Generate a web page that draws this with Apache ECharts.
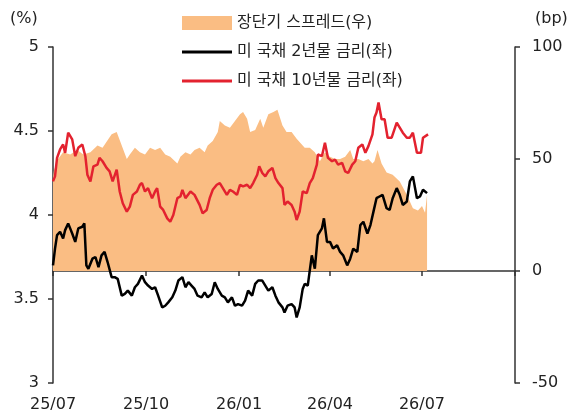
<!DOCTYPE html>
<html>
<head>
<meta charset="utf-8">
<script src="https://cdn.jsdelivr.net/npm/echarts@6/dist/echarts.min.js"></script>
<style>
  html, body { margin: 0; padding: 0; background: #fff; }
  #chart { width: 571px; height: 416px; }
</style>
</head>
<body>
<div id="chart"></div>
<script>
// day offsets from 2025-07-01
const spreadDays = [0, 1, 5, 10, 17, 24, 30, 37, 44, 49, 58, 63, 68, 73, 76, 81, 86, 91, 96, 101, 106, 111, 116, 123, 126, 131, 136, 140, 145, 150, 153, 158, 163, 165, 170, 175, 180, 185, 188, 192, 195, 200, 205, 208, 213, 218, 222, 227, 231, 236, 241, 247, 249, 254, 259, 264, 269, 274, 279, 284, 289, 294, 297, 302, 307, 312, 316, 318, 321, 325, 330, 336, 343, 350, 356, 361, 365, 368, 370]
const spreadBp = [42, 45, 50, 53, 52, 54, 52, 53, 56, 55, 61, 62, 56, 50, 52, 55, 53, 52, 55, 54, 55, 52, 51, 48, 51, 53, 52, 54, 55, 53, 56, 58, 62, 67, 65, 64, 67, 70, 71, 68, 62, 63, 68, 64, 70, 71, 72, 65, 62, 62, 59, 56, 55, 55, 53, 49, 53, 51, 50, 50, 51, 54, 50, 50, 49, 50, 48, 49, 54, 48, 44, 43, 40, 34, 28, 27, 29, 26, 34]

const y2Days = [0, 2, 4, 7, 10, 12, 15, 19, 22, 25, 29, 31, 33, 35, 39, 42, 45, 48, 51, 54, 58, 61, 64, 68, 71, 74, 78, 81, 84, 88, 91, 94, 98, 101, 104, 108, 111, 114, 118, 121, 124, 128, 131, 134, 137, 140, 143, 147, 150, 153, 157, 160, 163, 167, 170, 173, 177, 180, 183, 187, 190, 193, 197, 200, 203, 207, 210, 213, 217, 220, 223, 227, 229, 232, 236, 239, 241, 244, 247, 249, 252, 256, 259, 262, 266, 268, 271, 274, 277, 281, 284, 287, 291, 294, 297, 301, 304, 307, 311, 314, 317, 320, 323, 326, 330, 333, 336, 340, 343, 346, 350, 353, 356, 360, 363, 366, 370]
const y2Vals = [3.70, 3.80, 3.88, 3.90, 3.86, 3.91, 3.95, 3.89, 3.84, 3.92, 3.93, 3.95, 3.70, 3.68, 3.74, 3.75, 3.69, 3.76, 3.78, 3.72, 3.63, 3.63, 3.62, 3.52, 3.53, 3.55, 3.52, 3.57, 3.59, 3.64, 3.60, 3.58, 3.56, 3.57, 3.52, 3.45, 3.46, 3.48, 3.51, 3.55, 3.61, 3.63, 3.57, 3.60, 3.58, 3.56, 3.52, 3.51, 3.54, 3.51, 3.53, 3.60, 3.56, 3.52, 3.51, 3.48, 3.51, 3.46, 3.47, 3.46, 3.49, 3.55, 3.52, 3.59, 3.61, 3.61, 3.58, 3.55, 3.57, 3.52, 3.48, 3.45, 3.42, 3.46, 3.47, 3.45, 3.39, 3.45, 3.56, 3.59, 3.58, 3.76, 3.68, 3.88, 3.92, 3.98, 3.84, 3.84, 3.80, 3.82, 3.78, 3.76, 3.70, 3.74, 3.80, 3.78, 3.94, 3.96, 3.89, 3.94, 4.02, 4.10, 4.11, 4.12, 4.04, 4.03, 4.10, 4.16, 4.12, 4.06, 4.08, 4.20, 4.23, 4.10, 4.11, 4.15, 4.13]

const y10Days = [0, 2, 4, 7, 10, 12, 15, 19, 22, 25, 29, 32, 34, 37, 40, 44, 46, 49, 53, 56, 59, 63, 66, 69, 73, 76, 79, 83, 86, 88, 91, 94, 98, 101, 103, 106, 109, 113, 116, 119, 123, 126, 128, 131, 136, 140, 145, 148, 152, 155, 158, 162, 165, 168, 172, 175, 178, 182, 185, 188, 192, 195, 198, 202, 204, 207, 210, 213, 217, 220, 223, 227, 229, 232, 236, 239, 241, 244, 247, 251, 254, 257, 261, 262, 266, 269, 272, 276, 279, 282, 286, 289, 292, 296, 299, 302, 306, 309, 312, 316, 318, 320, 322, 325, 328, 331, 335, 340, 343, 346, 350, 353, 356, 358, 360, 364, 366, 371]
const y10Vals = [4.20, 4.23, 4.34, 4.39, 4.42, 4.37, 4.49, 4.45, 4.35, 4.40, 4.42, 4.35, 4.24, 4.20, 4.29, 4.30, 4.34, 4.32, 4.28, 4.26, 4.20, 4.27, 4.14, 4.07, 4.02, 4.05, 4.12, 4.14, 4.18, 4.19, 4.14, 4.16, 4.10, 4.14, 4.16, 4.05, 4.03, 3.98, 3.96, 4.00, 4.10, 4.11, 4.15, 4.10, 4.14, 4.12, 4.06, 4.01, 4.03, 4.10, 4.15, 4.18, 4.19, 4.16, 4.12, 4.15, 4.14, 4.12, 4.18, 4.17, 4.18, 4.16, 4.19, 4.24, 4.29, 4.25, 4.23, 4.26, 4.28, 4.22, 4.19, 4.16, 4.06, 4.08, 4.06, 4.02, 3.97, 4.02, 4.14, 4.13, 4.19, 4.22, 4.30, 4.36, 4.35, 4.43, 4.34, 4.32, 4.33, 4.30, 4.31, 4.26, 4.25, 4.30, 4.32, 4.40, 4.42, 4.37, 4.41, 4.48, 4.58, 4.61, 4.67, 4.57, 4.57, 4.46, 4.46, 4.55, 4.52, 4.49, 4.46, 4.46, 4.49, 4.43, 4.37, 4.37, 4.46, 4.48]

// quarter starts as day offsets (25/07 .. 26/10) and their labels
const quarterDays = [0, 92, 184, 274, 365, 457]
const quarterLabels = ['25/07', '25/10', '26/01', '26/04', '26/07', '']

const leftTicks = [3, 5, 0.5]
const rightTicks = [-50, 100, 50]
const names = ['장단기 스프레드(우)', '미 국채 2년물 금리(좌)', '미 국채 10년물 금리(좌)']

const FONT = '"DejaVu Sans", "Noto Sans CJK KR", sans-serif'
// thin bar inside a 50x14 box, so the legend line keeps its thickness
const LINE_ICON = 'path://M0 0H0.01V0.01H0Z M0 5.5H50V8.5H0Z M0 13.99H0.01V14H0Z'

function pairs (days, vals) {
  return days.map((d, i) => [d, vals[i]])
}

const chart = echarts.init(document.getElementById('chart'), null, { renderer: 'canvas' })

const axisLine = { show: true, lineStyle: { color: '#333', width: 1.5 } }
const axisTick = { show: true, length: 5, lineStyle: { color: '#333', width: 1.5 } }
const labelStyle = { fontFamily: FONT, fontSize: 16, color: '#222' }

const option = {
  animation: false,
  textStyle: { fontFamily: FONT },
  grid: { left: 53, right: 56, top: 47, bottom: 33 },
  legend: {
    orient: 'vertical',
    left: 182,
    top: 14,
    padding: 0,
    itemWidth: 50,
    itemHeight: 14,
    itemGap: 11,
    textStyle: { fontFamily: FONT, fontSize: 16, color: '#222', lineHeight: 18 },
    data: [
      { name: names[0], icon: 'rect' },
      { name: names[1], icon: LINE_ICON },
      { name: names[2], icon: LINE_ICON }
    ]
  },
  graphic: [
    { type: 'text', left: 10, top: 11, style: { text: '(%)', font: '16px ' + FONT, fill: '#222' } },
    { type: 'text', left: 535, top: 11, style: { text: '(bp)', font: '16px ' + FONT, fill: '#222' } }
  ],
  xAxis: {
    type: 'value',
    min: quarterDays[0],
    max: quarterDays[quarterDays.length - 1],
    axisLine: axisLine,
    axisTick: Object.assign({ customValues: quarterDays }, axisTick),
    splitLine: { show: false },
    axisLabel: Object.assign({
      customValues: quarterDays,
      margin: 14,
      formatter: function (v) {
        const i = quarterDays.indexOf(v)
        return i >= 0 ? quarterLabels[i] : ''
      }
    }, labelStyle)
  },
  yAxis: [
    {
      type: 'value',
      min: leftTicks[0],
      max: leftTicks[1],
      interval: leftTicks[2],
      position: 'left',
      axisLine: axisLine,
      axisTick: axisTick,
      splitLine: { show: false },
      axisLabel: Object.assign({ margin: 14 }, labelStyle)
    },
    {
      type: 'value',
      min: rightTicks[0],
      max: rightTicks[1],
      interval: rightTicks[2],
      position: 'right',
      axisLine: axisLine,
      axisTick: axisTick,
      splitLine: { show: false },
      axisLabel: Object.assign({ margin: 17 }, labelStyle)
    }
  ],
  series: [
    {
      name: names[0],
      type: 'line',
      yAxisIndex: 1,
      data: pairs(spreadDays, spreadBp),
      showSymbol: false,
      symbol: 'none',
      color: '#FABD83',
      itemStyle: { color: '#FABD83' },
      lineStyle: { width: 0, color: '#FABD83' },
      areaStyle: { color: '#FABD83', opacity: 1, origin: 0 },
      z: 1
    },
    {
      name: names[1],
      type: 'line',
      yAxisIndex: 0,
      data: pairs(y2Days, y2Vals),
      showSymbol: false,
      symbol: 'none',
      color: '#000',
      itemStyle: { color: '#000' },
      lineStyle: { width: 2.5, color: '#000' },
      z: 3
    },
    {
      name: names[2],
      type: 'line',
      yAxisIndex: 0,
      data: pairs(y10Days, y10Vals),
      showSymbol: false,
      symbol: 'none',
      color: '#E3222F',
      itemStyle: { color: '#E3222F' },
      lineStyle: { width: 2.5, color: '#E3222F' },
      z: 4
    }
  ]
}

chart.setOption(option)
</script>
</body>
</html>
